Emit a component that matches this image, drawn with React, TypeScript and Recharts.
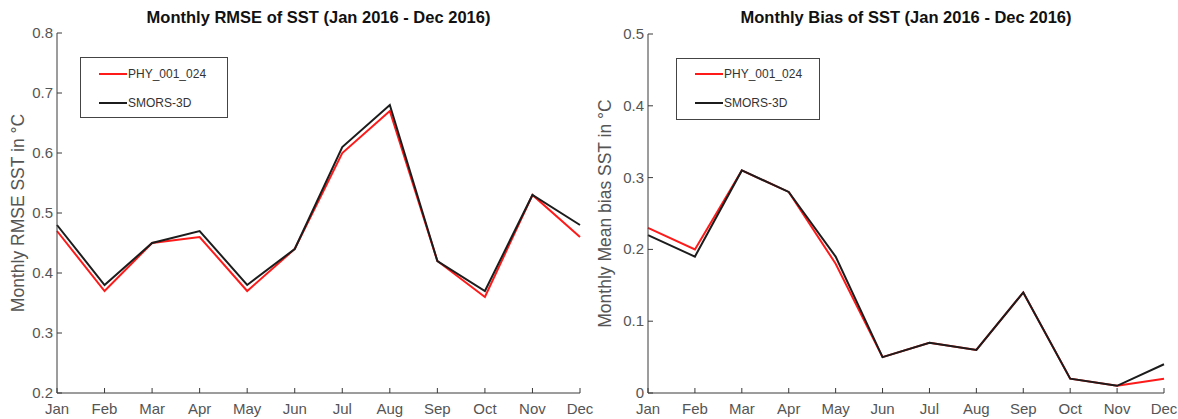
import React from 'react';
import { LineChart, Line, XAxis, YAxis, Legend } from 'recharts';

const months = ['Jan', 'Feb', 'Mar', 'Apr', 'May', 'Jun', 'Jul', 'Aug', 'Sep', 'Oct', 'Nov', 'Dec'];

const rmsePhy = [0.47, 0.37, 0.45, 0.46, 0.37, 0.44, 0.6, 0.67, 0.42, 0.36, 0.53, 0.46];
const rmseSmors = [0.48, 0.38, 0.45, 0.47, 0.38, 0.44, 0.61, 0.68, 0.42, 0.37, 0.53, 0.48];

const biasPhy = [0.23, 0.2, 0.31, 0.28, 0.18, 0.05, 0.07, 0.06, 0.14, 0.02, 0.01, 0.02];
const biasSmors = [0.22, 0.19, 0.31, 0.28, 0.19, 0.05, 0.07, 0.06, 0.14, 0.02, 0.01, 0.04];

const rmseTicks = [0.2, 0.3, 0.4, 0.5, 0.6, 0.7, 0.8];
const biasTicks = [0, 0.1, 0.2, 0.3, 0.4, 0.5];

const seriesNames = ['PHY_001_024', 'SMORS-3D'];

const FONT = '"Liberation Sans", Arial, Helvetica, sans-serif';
const AXIS = '#3a3a3a';
const LABEL = '#555';
const RED = '#ff1a1a';
const BLACK = '#1c1c1c';
const TICK = 5;

const fmt = (v: number) => (v === 0 ? '0' : String(Math.round(v * 10) / 10));

function BottomTick({ x, y, payload }: any) {
    return (
        <g>
            <line x1={x} x2={x} y1={y} y2={y - TICK} stroke={AXIS} />
            <text x={x} y={y + 21} textAnchor="middle" fill={LABEL} fontSize={15} fontFamily={FONT}>
                {payload.value}
            </text>
        </g>
    );
}

function TopTick({ x, y }: any) {
    return <line x1={x} x2={x} y1={y} y2={y + TICK} stroke={AXIS} />;
}

function LeftTick({ x, y, payload }: any) {
    return (
        <g>
            <line x1={x} x2={x + TICK} y1={y} y2={y} stroke={AXIS} />
            <text x={x - 4} y={y + 5} textAnchor="end" fill={LABEL} fontSize={15} fontFamily={FONT}>
                {fmt(payload.value)}
            </text>
        </g>
    );
}

function RightTick({ x, y }: any) {
    return <line x1={x} x2={x - TICK} y1={y} y2={y} stroke={AXIS} />;
}

function LegendBox({ payload, width, height, rows }: any) {
    return (
        <div
            style={{
                width,
                height,
                boxSizing: 'border-box',
                border: '1px solid #444',
                background: '#fff',
                fontFamily: FONT,
                fontSize: 12,
                color: '#333',
                position: 'relative',
            }}
        >
            {(payload || []).map((item: any, i: number) => (
                <div
                    key={item.value}
                    style={{ position: 'absolute', left: 18, top: rows[i] - 8, height: 16, display: 'flex', alignItems: 'center' }}
                >
                    <span style={{ display: 'inline-block', width: 28, height: i === 0 ? 1.5 : 2.5, background: item.color }} />
                    <span style={{ marginLeft: 1 }}>{item.value}</span>
                </div>
            ))}
        </div>
    );
}

interface PanelProps {
    title: string;
    yLabel: string;
    phy: number[];
    smors: number[];
    ticks: number[];
    left: number;
    width: number;
    marginTop: number;
    marginRight: number;
    yAxisWidth: number;
    labelOffset: number;
    legend: { x: number; y: number; w: number; h: number; rows: number[] };
}

function Panel({ title, yLabel, phy, smors, ticks, left, width, marginTop, marginRight, yAxisWidth, labelOffset, legend }: PanelProps) {
    const height = 419;
    const bottomAxis = 26;
    const data = months.map((m, i) => ({ month: m, phy: phy[i], smors: smors[i] }));
    const domain = [ticks[0], ticks[ticks.length - 1]];
    const plotLeft = yAxisWidth;
    const plotWidth = width - marginRight - yAxisWidth;

    return (
        <div style={{ position: 'absolute', left, top: 0, width, height }}>
            <div
                style={{
                    position: 'absolute',
                    left: plotLeft,
                    width: plotWidth,
                    top: 8,
                    textAlign: 'center',
                    fontFamily: FONT,
                    fontWeight: 'bold',
                    fontSize: 16.5,
                    color: '#111',
                    lineHeight: '19px',
                    whiteSpace: 'nowrap',
                }}
            >
                {title}
            </div>
            <LineChart width={width} height={height} data={data} margin={{ top: marginTop, right: marginRight, bottom: 0, left: 0 }}>
                <XAxis
                    dataKey="month"
                    xAxisId="bottom"
                    interval={0}
                    height={bottomAxis}
                    tickSize={0}
                    tickMargin={0}
                    tickLine={false}
                    axisLine={{ stroke: AXIS }}
                    tick={<BottomTick />}
                />
                <XAxis
                    dataKey="month"
                    xAxisId="top"
                    orientation="top"
                    interval={0}
                    height={0}
                    tickSize={0}
                    tickMargin={0}
                    tickLine={false}
                    axisLine={{ stroke: AXIS }}
                    tick={<TopTick />}
                />
                <YAxis
                    yAxisId="left"
                    type="number"
                    domain={domain}
                    ticks={ticks}
                    width={yAxisWidth}
                    tickSize={0}
                    tickMargin={0}
                    tickLine={false}
                    axisLine={{ stroke: AXIS }}
                    tick={<LeftTick />}
                    label={{
                        value: yLabel,
                        angle: -90,
                        position: 'insideLeft',
                        offset: labelOffset,
                        style: { textAnchor: 'middle', fill: LABEL, fontSize: 17.5, fontFamily: FONT },
                    }}
                />
                <YAxis
                    yAxisId="right"
                    orientation="right"
                    type="number"
                    domain={domain}
                    ticks={ticks}
                    width={0}
                    tickSize={0}
                    tickMargin={0}
                    tickLine={false}
                    axisLine={{ stroke: AXIS }}
                    tick={<RightTick />}
                />
                <Legend
                    layout="vertical"
                    align="center"
                    verticalAlign="middle"
                    wrapperStyle={{ position: 'absolute', left: legend.x, top: legend.y, width: legend.w, height: legend.h }}
                    content={(p: any) => <LegendBox payload={p.payload} width={legend.w} height={legend.h} rows={legend.rows} />}
                />
                <Line
                    xAxisId="bottom"
                    yAxisId="left"
                    dataKey="phy"
                    name={seriesNames[0]}
                    stroke={RED}
                    strokeWidth={2}
                    dot={false}
                    isAnimationActive={false}
                />
                <Line
                    xAxisId="bottom"
                    yAxisId="left"
                    dataKey="smors"
                    name={seriesNames[1]}
                    stroke={BLACK}
                    strokeWidth={2}
                    dot={false}
                    isAnimationActive={false}
                />
            </LineChart>
        </div>
    );
}

export default function App() {
    return (
        <div style={{ position: 'absolute', left: 0, top: 0, width: 1178, height: 419, background: '#fff' }}>
            <Panel
                title="Monthly RMSE of SST (Jan 2016 - Dec 2016)"
                yLabel="Monthly RMSE SST in °C"
                phy={rmsePhy}
                smors={rmseSmors}
                ticks={rmseTicks}
                left={0}
                width={600}
                marginTop={33}
                marginRight={20}
                yAxisWidth={57}
                labelOffset={18}
                legend={{ x: 80, y: 57, w: 148, h: 61, rows: [16, 45] }}
            />
            <Panel
                title="Monthly Bias of SST (Jan 2016 - Dec 2016)"
                yLabel="Monthly Mean bias SST in °C"
                phy={biasPhy}
                smors={biasSmors}
                ticks={biasTicks}
                left={590}
                width={588}
                marginTop={34}
                marginRight={14}
                yAxisWidth={58}
                labelOffset={15}
                legend={{ x: 86, y: 58, w: 144, h: 62, rows: [15, 44] }}
            />
        </div>
    );
}
